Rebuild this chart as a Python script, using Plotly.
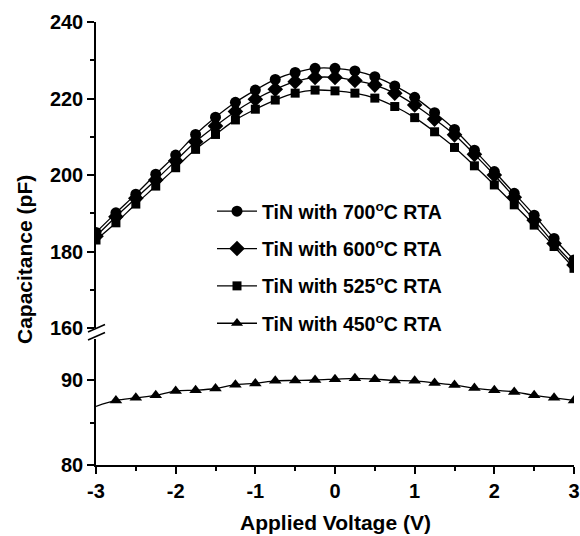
import plotly.graph_objects as go

# ---- data ----
voltage = [-3.0, -2.75, -2.5, -2.25, -2.0, -1.75, -1.5, -1.25, -1.0, -0.75, -0.5, -0.25,
           0.0, 0.25, 0.5, 0.75, 1.0, 1.25, 1.5, 1.75, 2.0, 2.25, 2.5, 2.75, 3.0]

cap_700 = [185.0, 190.1, 195.0, 200.2, 205.2, 210.6, 215.1, 219.0, 222.2, 225.0, 226.8, 227.9,
           227.9, 227.2, 225.7, 223.3, 220.3, 216.3, 211.9, 206.5, 200.9, 195.2, 189.5, 183.4, 177.8]
cap_600 = [184.0, 189.1, 193.9, 198.7, 203.7, 208.7, 212.8, 216.6, 219.8, 222.4, 224.4, 225.5,
           225.5, 224.7, 223.5, 221.4, 218.3, 214.6, 210.5, 205.4, 200.0, 194.2, 188.2, 182.1, 176.5]
cap_525 = [183.0, 187.5, 192.4, 197.1, 201.9, 206.7, 210.6, 214.4, 217.2, 219.6, 221.4, 222.2,
           222.0, 221.4, 220.1, 217.9, 215.0, 211.3, 207.2, 202.4, 197.4, 192.2, 186.9, 181.3, 175.6]
cap_450 = [86.9, 87.6, 87.9, 88.2, 88.7, 88.8, 89.0, 89.45, 89.6, 89.9, 89.95, 90.0,
           90.1, 90.2, 90.1, 89.95, 89.9, 89.65, 89.4, 89.05, 88.8, 88.6, 88.2, 87.9, 87.6]

names = ["TiN with 700<sup>o</sup>C RTA", "TiN with 600<sup>o</sup>C RTA",
         "TiN with 525<sup>o</sup>C RTA", "TiN with 450<sup>o</sup>C RTA"]

x_tickvals = [-3, -2, -1, 0, 1, 2, 3]
x_ticktext = ["-3", "-2", "-1", "0", "1", "2", "3"]

FONT = "Liberation Sans, Arial, Helvetica, sans-serif"

fig = go.Figure()

specs = [
    (cap_700, "circle", 11, "y2"),
    (cap_600, "diamond", 12, "y2"),
    (cap_525, "square", 9, "y2"),
    (cap_450, "triangle-up", 11, "y"),
]
for i, (vals, sym, sz, ax) in enumerate(specs):
    sizes = [sz] * len(voltage)
    if ax == "y":
        sizes[0] = 0
    fig.add_trace(go.Scatter(
        x=voltage, y=vals, name=names[i], yaxis=ax, xaxis="x",
        mode="lines+markers", line=dict(color="black", width=1.3, shape="spline"),
        marker=dict(symbol=sym, size=sizes, color="black", opacity=1, line=dict(width=0)),
        legendgroup=f"g{i}",
    ))

L, R, T, B = 96, 6, 22, 71
W, H = 580, 536
ph = H - T - B
pw = W - L - R

def py(px):
    return (H - B - px) / ph

def pxx(px):
    return (px - L) / pw

axis_common = dict(showline=True, linecolor="black", linewidth=1.5, ticks="outside",
                   tickcolor="black", tickwidth=1.5, showgrid=False, zeroline=False,
                   tickfont=dict(family=FONT, size=20, color="black", weight="bold"))

fig.update_layout(
    width=W, height=H,
    margin=dict(l=L, r=R, t=T, b=B, autoexpand=False),
    paper_bgcolor="white", plot_bgcolor="white",
    showlegend=True,
    legend=dict(x=pxx(212), y=py(192), xanchor="left", yanchor="top",
                bgcolor="rgba(0,0,0,0)", itemwidth=40, tracegroupgap=9,
                font=dict(family=FONT, size=19.5, color="black", weight="bold")),
    xaxis=dict(range=[-3, 3], tickmode="array", tickvals=x_tickvals, ticktext=x_ticktext,
               ticklen=7, anchor="y",
               minor=dict(dtick=0.5, tick0=-3, ticklen=4, ticks="outside", tickcolor="black",
                          tickwidth=1.5, showgrid=False),
               **axis_common),
    yaxis=dict(range=[80, 94.8], domain=[0, py(339.2)], dtick=10, tick0=80, ticklen=7, anchor="x",
               minor=dict(dtick=5, ticklen=4, ticks="outside", tickcolor="black", tickwidth=1.5, showgrid=False),
               **axis_common),
    yaxis2=dict(range=[160, 240], domain=[py(328), 1], dtick=20, tick0=160, ticklen=7, anchor="x",
                minor=dict(dtick=10, ticklen=4, ticks="outside", tickcolor="black", tickwidth=1.5, showgrid=False),
                **axis_common),
)

# axis break marks
for y0 in (332, 340):
    fig.add_shape(type="line", xref="paper", yref="paper",
                  x0=pxx(88), x1=pxx(105), y0=py(y0), y1=py(y0 - 7.5),
                  line=dict(color="black", width=1.5))

fig.add_annotation(text="Applied Voltage (V)", xref="paper", yref="paper",
                   x=pxx(335), y=py(522), showarrow=False, xanchor="center", yanchor="middle",
                   font=dict(family=FONT, size=21, color="black", weight="bold"))
fig.add_annotation(text="Capacitance (pF)", xref="paper", yref="paper",
                   x=pxx(24), y=py(260), showarrow=False, xanchor="center", yanchor="middle",
                   textangle=-90,
                   font=dict(family=FONT, size=21, color="black", weight="bold"))

fig.write_html("out.html")
